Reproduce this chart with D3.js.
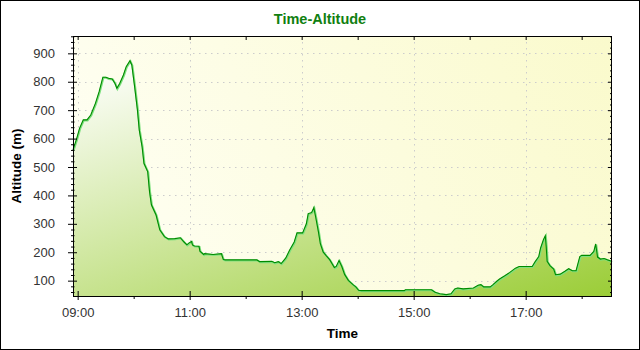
<!DOCTYPE html>
<html>
<head>
<meta charset="utf-8">
<script src="https://cdn.jsdelivr.net/npm/d3@7"></script>
<style>
body { margin: 0; background: #fff; }
</style>
</head>
<body>
<div id="chart"></div>
<script>
const times = ["08:55","08:59","09:02","09:06","09:10","09:14","09:19","09:23","09:27","09:30",
    "09:33","09:37","09:40","09:42","09:45","09:49","09:52","09:56","09:58","10:01",
    "10:04","10:06","10:09","10:11","10:15","10:17","10:19","10:24","10:28","10:33",
    "10:37","10:44","10:50","10:54","10:57","10:59","11:02","11:03","11:05","11:10",
    "11:11","11:15","11:16","11:25","11:34","11:36","11:38","12:12","12:15","12:28",
    "12:31","12:35","12:38","12:40","12:43","12:47","12:52","12:55","13:01","13:05",
    "13:07","13:10","13:11","13:13","13:15","13:18","13:20","13:23","13:26","13:30",
    "13:35","13:37","13:40","13:43","13:46","13:50","13:55","13:58","14:01","14:04",
    "14:50","14:51","15:19","15:23","15:28","15:35","15:40","15:44","15:47","15:53",
    "16:04","16:09","16:12","16:15","16:22","16:25","16:29","16:32","16:38","16:43",
    "16:49","16:53","17:07","17:10","17:14","17:16","17:19","17:21","17:22","17:23",
    "17:26","17:30","17:32","17:37","17:42","17:46","17:50","17:54","17:58","18:00",
    "18:09","18:13","18:15","18:17","18:20","18:24","18:28","18:32"]
const altitudes = [560,601,636,666,666,683,724,765,816,816,
    812,810,794,777,794,824,853,874,859,783,
    701,630,572,513,484,413,367,331,279,255,
    247,248,251,236,226,232,238,226,222,221,
    204,192,195,192,195,175,173,173,167,168,
    163,167,160,168,180,207,236,268,268,300,
    336,339,342,357,324,271,230,201,189,174,
    146,150,171,150,122,101,86,78,66,65,
    65,68,68,59,54,51,54,71,74,71,
    74,84,86,78,78,86,98,106,118,129,
    144,150,150,166,185,215,244,258,220,168,
    153,141,121,123,133,142,135,135,185,189,
    189,203,229,183,176,178,173,168]
const yTicks = [100, 200, 300, 400, 500, 600, 700, 800, 900]
const xTickLabels = ["09:00", "11:00", "13:00", "15:00", "17:00"]
const xMinorLabels = ["10:00", "12:00", "14:00", "16:00", "18:00"]

const width = 640, height = 350
const plotLeft = 73, plotRight = 612, plotTop = 36, plotBottom = 296

var parse = d3.timeParse("%H:%M")
var data = times.map((t, i) => ({ time: parse(t), alt: altitudes[i] }))

var x = d3.scaleTime()
    .domain([parse("08:55"), d3.timeParse("%H:%M:%S")("18:32:30")])
    .range([plotLeft, plotRight])
var y = d3.scaleLinear().domain([46, 961]).range([plotBottom, plotTop])

var svg = d3.select("#chart").append("svg")
    .attr("width", width)
    .attr("height", height)
    .style("font-family", "'Liberation Sans', Arial, sans-serif")

var defs = svg.append("defs")
var bg = defs.append("linearGradient")
    .attr("id", "bg")
    .attr("gradientUnits", "userSpaceOnUse")
    .attr("x1", plotLeft).attr("y1", plotBottom)
    .attr("x2", plotRight).attr("y2", plotTop)
bg.append("stop").attr("offset", 0).attr("stop-color", "#fffff6")
bg.append("stop").attr("offset", 1).attr("stop-color", "#fafacc")

var fill = defs.append("linearGradient")
    .attr("id", "fill")
    .attr("gradientUnits", "userSpaceOnUse")
    .attr("x1", 167).attr("y1", 36)
    .attr("x2", 292).attr("y2", 411)
fill.append("stop").attr("offset", 0).attr("stop-color", "#ffffff")
fill.append("stop").attr("offset", 1).attr("stop-color", "#99cc33")

svg.append("rect")
    .attr("x", 0.5).attr("y", 0.5)
    .attr("width", width - 1).attr("height", height - 1)
    .attr("fill", "#fff")
    .attr("stroke", "#000")

svg.append("rect")
    .attr("x", plotLeft).attr("y", plotTop)
    .attr("width", plotRight - plotLeft).attr("height", plotBottom - plotTop)
    .attr("fill", "url(#bg)")

// dotted grid
var grid = svg.append("g")
    .attr("stroke", "#cccccc")
    .attr("stroke-dasharray", "1.5,4.5")
grid.selectAll(".hgrid").data(yTicks).enter().append("line")
    .attr("x1", plotLeft).attr("x2", plotRight)
    .attr("y1", d => Math.round(y(d)) + 0.5)
    .attr("y2", d => Math.round(y(d)) + 0.5)
grid.selectAll(".vgrid").data(xTickLabels).enter().append("line")
    .attr("y1", plotTop).attr("y2", plotBottom)
    .attr("x1", d => Math.round(x(parse(d))) + 0.5)
    .attr("x2", d => Math.round(x(parse(d))) + 0.5)

var area = d3.area()
    .x(d => x(d.time))
    .y0(plotBottom)
    .y1(d => y(d.alt))
var line = d3.line()
    .x(d => x(d.time))
    .y(d => y(d.alt))

svg.append("path")
    .datum(data)
    .attr("d", area)
    .attr("fill", "url(#fill)")

svg.append("path")
    .datum(data)
    .attr("d", line)
    .attr("fill", "none")
    .attr("stroke", "#7ee07e")
    .attr("stroke-width", 2)
    .attr("transform", "translate(0.6,0.6)")
svg.append("path")
    .datum(data)
    .attr("d", line)
    .attr("fill", "none")
    .attr("stroke", "#008a00")
    .attr("stroke-width", 1.1)

// axes
var yMinor = d3.range(60, 961, 20).filter(d => d % 100 != 0)

var gLeft = svg.append("g")
    .attr("transform", `translate(${plotLeft},0)`)
    .call(d3.axisLeft(y).tickValues(yTicks).tickSize(5).tickPadding(13))
gLeft.selectAll(".tick line").attr("x1", 4)
var gLeftMinor = svg.append("g")
    .attr("transform", `translate(${plotLeft},0)`)
    .call(d3.axisLeft(y).tickValues(yMinor).tickSize(2).tickFormat(""))
gLeftMinor.selectAll(".tick line").attr("x1", 1.5)

svg.append("g")
    .attr("transform", `translate(${plotRight},0)`)
    .call(d3.axisRight(y).tickValues(yTicks).tickSize(-4).tickFormat(""))
svg.append("g")
    .attr("transform", `translate(${plotRight},0)`)
    .call(d3.axisRight(y).tickValues(yMinor).tickSize(-2).tickFormat(""))

var gBottom = svg.append("g")
    .attr("transform", `translate(0,${plotBottom})`)
    .call(d3.axisBottom(x)
        .tickValues(xTickLabels.map(parse))
        .tickFormat(d3.timeFormat("%H:%M"))
        .tickSize(4).tickPadding(8))
gBottom.selectAll(".tick line").attr("y1", -5)
svg.append("g")
    .attr("transform", `translate(0,${plotBottom})`)
    .call(d3.axisBottom(x).tickValues(xMinorLabels.map(parse)).tickSize(3).tickFormat(""))

svg.append("g")
    .attr("transform", `translate(0,${plotTop})`)
    .call(d3.axisTop(x).tickValues(xTickLabels.concat(xMinorLabels).map(parse)).tickSize(-4).tickFormat(""))

svg.selectAll(".domain").remove()
svg.selectAll(".tick line").attr("stroke", "#000")
svg.selectAll(".tick text")
    .attr("fill", "#333")
    .style("font-size", "13px")
    .style("font-family", "'Liberation Sans', Arial, sans-serif")

svg.append("rect")
    .attr("x", plotLeft + 0.5).attr("y", plotTop + 0.5)
    .attr("width", plotRight - plotLeft - 1).attr("height", plotBottom - plotTop)
    .attr("fill", "none")
    .attr("stroke", "#000")

svg.append("text")
    .attr("x", width / 2).attr("y", 23.5)
    .attr("text-anchor", "middle")
    .attr("fill", "#108010")
    .style("font-size", "14.5px")
    .style("font-weight", "bold")
    .text("Time-Altitude")

svg.append("text")
    .attr("x", (plotLeft + plotRight) / 2).attr("y", 338)
    .attr("text-anchor", "middle")
    .attr("fill", "#000")
    .style("font-size", "13.5px")
    .style("font-weight", "bold")
    .text("Time")

svg.append("text")
    .attr("transform", `translate(21,${(plotTop + plotBottom) / 2}) rotate(-90)`)
    .attr("text-anchor", "middle")
    .attr("fill", "#000")
    .style("font-size", "13.5px")
    .style("font-weight", "bold")
    .text("Altitude (m)")
</script>
</body>
</html>
